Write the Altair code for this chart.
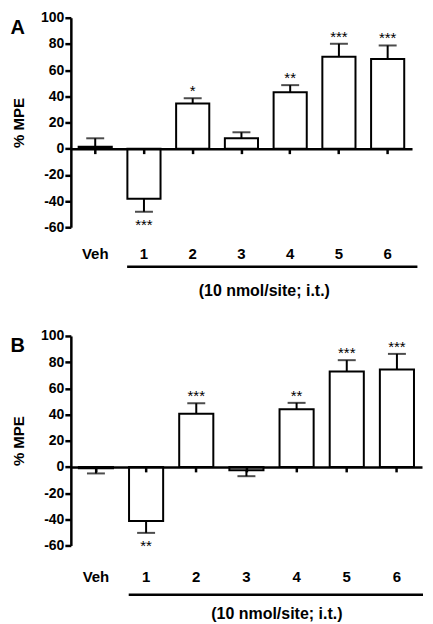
import altair as alt
import pandas as pd

categories = ["Veh", "1", "2", "3", "4", "5", "6"]
a_mean = [1.5, -38.3, 34.4, 7.9, 43.1, 70.2, 68.4]
a_sem = [6.4, 9.9, 4.1, 4.6, 5.4, 9.9, 10.4]
a_stars = ["", "***", "*", "", "**", "***", "***"]
b_mean = [-1.0, -41.3, 40.5, -2.5, 44.0, 72.9, 74.4]
b_sem = [4.0, 9.1, 8.1, 4.6, 4.9, 8.6, 11.9]
b_stars = ["", "**", "***", "", "**", "***", "***"]
y_ticks = [-60, -40, -20, 0, 20, 40, 60, 80, 100]
y_title = "% MPE"
x_title = "(10 nmol/site; i.t.)"

FONT = "Liberation Sans"
H = 210


def panel(mean, sem, stars, letter, W, label_pad, title_x, title_y, line_y, line_x0, line_x1):
    df = pd.DataFrame({"cat": categories, "mean": mean, "sem": sem, "stars": stars})
    df["end"] = [m + (s if m >= 0 else -s) for m, s in zip(mean, sem)]
    base = alt.Chart(df)
    xscale = alt.Scale(domain=categories, paddingInner=0.32, paddingOuter=0.16)
    yscale = alt.Scale(domain=[-60, 100], nice=False, zero=False)

    x_lab = alt.X("cat:N", scale=xscale, sort=categories,
                  axis=alt.Axis(title=x_title, labelAngle=0, labelFont=FONT, labelFontSize=15,
                                labelFontWeight="bold", labelColor="black", labelPadding=label_pad,
                                ticks=False, domain=False, titleFont=FONT, titleFontSize=16,
                                titleFontWeight="bold", titleColor="black", titleX=title_x,
                                titleY=title_y, titleBaseline="alphabetic", titleAlign="center"))
    x_zero = alt.X("cat:N", scale=xscale, sort=categories,
                   axis=alt.Axis(orient="bottom", offset=-H * 60 / 160, labels=False, title=None,
                                 domainWidth=2.5, domainColor="black", tickSize=5, tickWidth=2.5,
                                 tickColor="black", zindex=1))
    x_none = alt.X("cat:N", scale=xscale, sort=categories, axis=None)
    y = alt.Y("mean:Q", scale=yscale,
              axis=alt.Axis(orient="left", values=y_ticks, title=y_title, labelFont=FONT,
                            labelFontSize=14, labelFontWeight="bold", labelColor="black",
                            labelPadding=1, labelOverlap=False, labelExpr="'' + datum.value",
                            tickSize=6, tickWidth=2.5, tickColor="black", domainWidth=2.5,
                            domainColor="black", grid=False, titleFont=FONT, titleFontSize=15,
                            titleFontWeight="bold", titleColor="black", titlePadding=14))

    bars = base.mark_bar(fill="white", stroke="black", strokeWidth=2).encode(
        x=x_lab, y=y, y2=alt.datum(0))
    errs = base.mark_rule(color="black", strokeWidth=2).encode(
        x=x_zero, y=alt.Y("mean:Q", scale=yscale, axis=None), y2="end:Q")
    caps = base.mark_tick(color="black", thickness=2, size=18, orient="horizontal").encode(
        x=x_none, y=alt.Y("end:Q", scale=yscale, axis=None))
    star_pos = base.transform_filter("datum.mean >= 0").mark_text(
        baseline="alphabetic", dy=-2, font=FONT, fontSize=15, color="black").encode(
        x=x_none, y=alt.Y("end:Q", scale=yscale, axis=None), text="stars:N")
    star_neg = base.transform_filter("datum.mean < 0").mark_text(
        baseline="top", dy=6, font=FONT, fontSize=15, color="black").encode(
        x=x_none, y=alt.Y("end:Q", scale=yscale, axis=None), text="stars:N")
    lab = alt.Chart(pd.DataFrame({"t": [letter]})).mark_text(
        align="left", baseline="top", font=FONT, fontSize=20, fontWeight="bold",
        color="black").encode(x=alt.value(-60.6), y=alt.Y(datum=100, axis=None), text="t:N")
    line = alt.Chart(pd.DataFrame({"a": [0]})).mark_rule(strokeWidth=2.5, color="black").encode(
        x=alt.value(line_x0), x2=alt.value(line_x1), y=alt.value(line_y))

    return alt.layer(bars, errs, caps, star_pos, star_neg, lab, line).resolve_axis(
        x="independent", y="independent").properties(width=W, height=H)


pa = panel(a_mean, a_sem, a_stars, "A", 342, 19, 193.4, 68.4, 249.7, 56.4, 347.4)
pb = panel(b_mean, b_sem, b_stars, "B", 352, 24, 206, 73, 259.3, 58, 353)

chart = alt.vconcat(pa, pb, spacing=30).properties(
    padding={"left": 2, "top": 2, "right": 0, "bottom": 0}, background="white"
).configure_view(stroke=None)

chart.save("out.html", embed_options={"renderer": "svg", "actions": False})
